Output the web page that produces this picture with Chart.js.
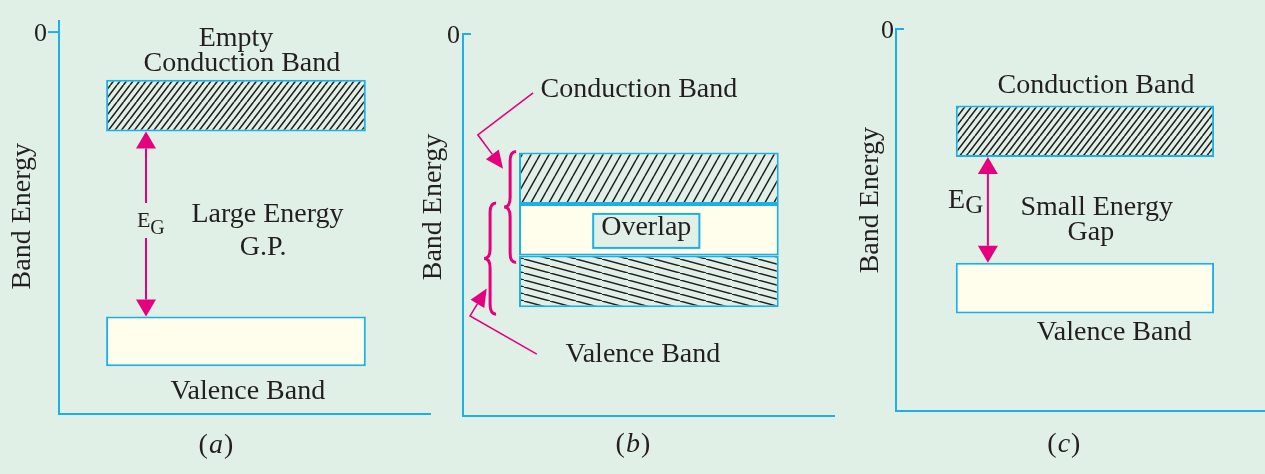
<!DOCTYPE html>
<html>
<head>
<meta charset="utf-8">
<title>Energy bands</title>
<script src="https://cdn.jsdelivr.net/npm/chart.js@4.4.1/dist/chart.umd.min.js"></script>
<style>
  html, body { margin: 0; padding: 0; background: #e1f0e6; }
  #wrap { position: relative; width: 1265px; height: 474px; overflow: hidden; }
  .panel { position: absolute; top: 0; height: 474px; }
</style>
</head>
<body>
<div id="wrap">
  <div class="panel" style="left:0;width:440px"><canvas id="chartA"></canvas></div>
  <div class="panel" style="left:420px;width:420px"><canvas id="chartB"></canvas></div>
  <div class="panel" style="left:845px;width:420px"><canvas id="chartC"></canvas></div>
</div>
<script>
// band energies in arbitrary units, 0 at the top of each axis
const captions = ['a', 'b', 'c'];
const axisTitle = 'Band Energy';
const zeroTick = [0];
const energyMin = -10;

const conductionA = [-1.25, -2.6];
const valenceA = [-7.45, -8.75];
const conductionB = [-3.1, -5.8];
const valenceB = [-4.45, -7.15];
const conductionC = [-2.0, -3.35];
const valenceC = [-6.12, -7.45];
const bandX = [4.77, 5.01, 5.12];

const notesA = ['Empty', 'Conduction Band', 'Large Energy', 'G.P.', 'Valence Band'];
const notesB = ['Conduction Band', 'Overlap', 'Valence Band'];
const notesC = ['Conduction Band', 'Small Energy', 'Gap', 'Valence Band'];
const gapSymbol = ['E', 'G'];

const MINT = '#e1f0e6';
const CYAN = '#1cb0e8';
const INK = '#231f20';
const CREAM = '#fffdeb';
const PINK = '#e5007e';
const SERIF = '"Liberation Serif", "Times New Roman", serif';

// hatch tile: n parallel lines per tile of w x h
function hatch(w, h, up, lw, n) {
    const c = document.createElement('canvas');
    c.width = w; c.height = h;
    const g = c.getContext('2d');
    g.fillStyle = MINT;
    g.fillRect(0, 0, w, h);
    g.strokeStyle = INK;
    g.lineWidth = lw;
    g.beginPath();
    for (let k = -n; k <= n; k++) {
        const x0 = k * w / n;
        if (up) { g.moveTo(x0, h); g.lineTo(x0 + w, 0); }
        else { g.moveTo(x0, 0); g.lineTo(x0 + w, h); }
    }
    g.stroke();
    return g.createPattern(c, 'repeat');
}
const hatchFine = hatch(13, 17, true, 1.6, 2);
const hatchWide = hatch(9, 16, true, 1.5, 1);
const hatchFlat = hatch(26, 7, false, 1.5, 1);

function tri(ctx, a, b, c) {
    ctx.beginPath();
    ctx.moveTo(a[0], a[1]); ctx.lineTo(b[0], b[1]); ctx.lineTo(c[0], c[1]);
    ctx.closePath();
    ctx.fill();
}

// text, arrows and braces placed with the chart's own scales
const bandNotes = {
    id: 'bandNotes',
    afterDatasetsDraw(chart, args, o) {
        const ctx = chart.ctx;
        const X = v => chart.scales.x.getPixelForValue(v);
        const Y = v => chart.scales.y.getPixelForValue(v);
        ctx.save();

        // zero tick
        const ax = chart.chartArea.left, ty = Y(0);
        ctx.strokeStyle = CYAN; ctx.lineWidth = 2;
        ctx.beginPath(); ctx.moveTo(ax, ty); ctx.lineTo(ax + o.tickDir * o.tickLen, ty); ctx.stroke();

        // boxed label
        if (o.box) {
            ctx.font = '28px ' + SERIF;
            const w = ctx.measureText(o.box.text).width + 16;
            const cx = X(o.box.x), cy = Y(o.box.y) + 4;
            ctx.fillStyle = MINT;
            ctx.fillRect(cx - w / 2, cy - 17, w, 34);
            ctx.strokeStyle = CYAN; ctx.lineWidth = 2;
            ctx.strokeRect(cx - w / 2, cy - 17, w, 34);
        }

        ctx.fillStyle = INK;
        ctx.textAlign = 'center';
        ctx.textBaseline = 'middle';
        ctx.font = '28px ' + SERIF;
        o.texts.forEach(t => ctx.fillText(t.text, X(t.x), Y(t.y)));

        // axis title
        ctx.save();
        ctx.translate(X(o.title.x), Y(o.title.y));
        ctx.rotate(-Math.PI / 2);
        ctx.fillText(axisTitle, 0, 0);
        ctx.restore();

        // caption like (a)
        const cap = o.caption;
        ctx.font = '28px ' + SERIF;
        const wp = ctx.measureText('(').width, wq = ctx.measureText(')').width;
        ctx.font = 'italic 28px ' + SERIF;
        const wl = ctx.measureText(cap.text).width + 2;
        const cx = X(cap.x) - (wp + wl + wq) / 2;
        const cy = Y(cap.y);
        ctx.textAlign = 'left';
        ctx.font = '28px ' + SERIF;
        ctx.fillText('(', cx, cy);
        ctx.font = 'italic 28px ' + SERIF;
        ctx.fillText(cap.text, cx + wp + 1, cy);
        ctx.font = '28px ' + SERIF;
        ctx.fillText(')', cx + wp + wl, cy);

        // energy gap arrow with E_G
        if (o.gap) {
            const g = o.gap, l = g.label;
            const x = X(g.x), y1 = Y(g.from), y2 = Y(g.to);
            const hl = 17, hw = 10;
            ctx.fillStyle = PINK; ctx.strokeStyle = PINK; ctx.lineWidth = 2;
            tri(ctx, [x, y1], [x - hw, y1 + hl], [x + hw, y1 + hl]);
            tri(ctx, [x, y2], [x - hw, y2 - hl], [x + hw, y2 - hl]);
            ctx.beginPath();
            if (g.split) {
                const ly = Y(l.y);
                ctx.moveTo(x, y1 + hl); ctx.lineTo(x, ly - 17);
                ctx.moveTo(x, ly + 18); ctx.lineTo(x, y2 - hl);
            } else {
                ctx.moveTo(x, y1 + hl); ctx.lineTo(x, y2 - hl);
            }
            ctx.stroke();

            ctx.fillStyle = INK;
            ctx.textBaseline = 'alphabetic';
            ctx.textAlign = 'left';
            const lx = X(l.x), base = Y(l.y) + 0.33 * l.size;
            ctx.font = l.size + 'px ' + SERIF;
            ctx.fillText(gapSymbol[0], lx, base);
            const we = ctx.measureText(gapSymbol[0]).width;
            ctx.font = l.sub + 'px ' + SERIF;
            ctx.fillText(gapSymbol[1], lx + we, base + l.drop);
        }

        // braces
        ctx.strokeStyle = PINK; ctx.fillStyle = PINK;
        (o.braces || []).forEach(b => {
            const x = X(b.x), ya = Y(b.from) - 1, yb = Y(b.to) + 7, ym = (ya + yb) / 2, d = 6;
            ctx.lineWidth = 3;
            ctx.beginPath();
            ctx.moveTo(x + d, ya);
            ctx.quadraticCurveTo(x, ya, x, ya + d * 1.6);
            ctx.lineTo(x, ym - d * 1.6);
            ctx.quadraticCurveTo(x, ym, x - d, ym);
            ctx.quadraticCurveTo(x, ym, x, ym + d * 1.6);
            ctx.lineTo(x, yb - d * 1.6);
            ctx.quadraticCurveTo(x, yb, x + d, yb);
            ctx.stroke();
        });

        // pointer arrows
        (o.pointers || []).forEach(p => {
            const pts = p.map(q => [X(q[0]), Y(q[1])]);
            const tip = pts[pts.length - 1], prev = pts[pts.length - 2];
            const a = Math.atan2(tip[1] - prev[1], tip[0] - prev[0]);
            const hl = 18, hw = 8, c = Math.cos(a), s = Math.sin(a);
            const bx = tip[0] - hl * c, by = tip[1] - hl * s;
            ctx.lineWidth = 1.6;
            ctx.beginPath();
            ctx.moveTo(pts[0][0], pts[0][1]);
            for (let i = 1; i < pts.length - 1; i++) ctx.lineTo(pts[i][0], pts[i][1]);
            ctx.lineTo(bx, by);
            ctx.stroke();
            tri(ctx, tip, [bx + hw * s, by - hw * c], [bx - hw * s, by + hw * c]);
        });

        ctx.restore();
    }
};

function makeChart(id, cfg) {
    return new Chart(document.getElementById(id), {
        type: 'bar',
        data: { datasets: cfg.datasets },
        options: {
            responsive: true,
            maintainAspectRatio: false,
            animation: false,
            layout: { padding: cfg.padding },
            datasets: {
                bar: {
                    grouped: false,
                    barPercentage: 0.7,
                    categoryPercentage: 1,
                    borderSkipped: false,
                    borderWidth: 2,
                    borderColor: CYAN
                }
            },
            scales: {
                x: {
                    type: 'linear', min: 0, max: 10, offset: false,
                    grid: { display: false },
                    border: { color: CYAN, width: 2 },
                    ticks: { display: false },
                    afterBuildTicks: s => { s.ticks = [{ value: 0 }, { value: 10 }]; },
                    afterFit: s => { s.height = 0; }
                },
                y: {
                    min: energyMin, max: cfg.yMax,
                    grid: { display: false, drawTicks: false },
                    border: { color: CYAN, width: 2 },
                    ticks: { padding: cfg.tickPad, labelOffset: 2, color: INK, font: { family: SERIF, size: 26 } },
                    afterBuildTicks: s => { s.ticks = zeroTick.map(v => ({ value: v })); },
                    afterFit: s => {
                        s.width = cfg.axisWidth;
                        s.paddingTop = 0;
                        s.paddingBottom = 0;
                    }
                }
            },
            plugins: {
                legend: { display: false },
                tooltip: { enabled: false },
                bandNotes: cfg.notes
            }
        },
        plugins: [bandNotes]
    });
}

// (a) insulator
makeChart('chartA', {
    padding: { top: 21, right: 10, bottom: 60, left: 0 },
    yMax: 0.29, axisWidth: 59, tickPad: 12,
    datasets: [
        { label: 'Conduction Band', data: [{ x: bandX[0], y: conductionA }], backgroundColor: hatchFine },
        { label: 'Valence Band', data: [{ x: bandX[0], y: valenceA }], backgroundColor: CREAM }
    ],
    notes: {
        tickDir: -1, tickLen: 11,
        title: { x: -0.98, y: -4.82 },
        caption: { text: captions[0], x: 4.23, y: -10.84 },
        texts: [
            { text: notesA[0], x: 4.77, y: -0.16 },
            { text: notesA[1], x: 4.93, y: -0.82 },
            { text: notesA[2], x: 5.62, y: -4.78 },
            { text: notesA[3], x: 5.5, y: -5.65 },
            { text: notesA[4], x: 5.09, y: -9.42 }
        ],
        gap: { x: 2.345, from: conductionA[1], to: valenceA[0], split: true,
               label: { x: 2.10, y: -4.92, size: 22, sub: 20, drop: 7 } }
    }
});

// (b) metal, bands overlap
makeChart('chartB', {
    padding: { top: 34, right: 6, bottom: 58, left: 0 },
    yMax: 0, axisWidth: 43, tickPad: 3,
    datasets: [
        { label: 'Conduction Band', data: [{ x: bandX[1], y: [conductionB[0], valenceB[0]] }], backgroundColor: hatchWide },
        { label: 'Overlap', data: [{ x: bandX[1], y: [valenceB[0], conductionB[1]] }], backgroundColor: CREAM },
        { label: 'Valence Band', data: [{ x: bandX[1], y: [conductionB[1], valenceB[1]] }], backgroundColor: hatchFlat }
    ],
    notes: {
        tickDir: 1, tickLen: 8,
        title: { x: -0.78, y: -4.53 },
        caption: { text: captions[1], x: 4.58, y: -10.76 },
        box: { text: notesB[1], x: 4.94, y: -5.05 },
        texts: [
            { text: notesB[0], x: 4.74, y: -1.45 },
            { text: notesB[1], x: 4.94, y: -5.07 },
            { text: notesB[2], x: 4.85, y: -8.40 }
        ],
        braces: [
            { x: 1.27, from: conductionB[0], to: conductionB[1] },
            { x: 0.73, from: valenceB[0], to: valenceB[1] }
        ],
        pointers: [
            [[1.89, -1.54], [0.40, -2.64], [1.08, -3.53]],
            [[1.99, -8.38], [0.19, -7.38], [0.64, -6.66]]
        ]
    }
});

// (c) semiconductor
makeChart('chartC', {
    padding: { top: 29, right: 0, bottom: 63, left: 0 },
    yMax: 0, axisWidth: 51, tickPad: 2,
    datasets: [
        { label: 'Conduction Band', data: [{ x: bandX[2], y: conductionC }], backgroundColor: hatchFine },
        { label: 'Valence Band', data: [{ x: bandX[2], y: valenceC }], backgroundColor: CREAM }
    ],
    notes: {
        tickDir: 1, tickLen: 8,
        title: { x: -0.70, y: -4.48 },
        caption: { text: captions[2], x: 4.55, y: -10.88 },
        texts: [
            { text: notesC[0], x: 5.42, y: -1.48 },
            { text: notesC[1], x: 5.44, y: -4.67 },
            { text: notesC[2], x: 5.28, y: -5.34 },
            { text: notesC[3], x: 5.91, y: -7.95 }
        ],
        gap: { x: 2.49, from: conductionC[1], to: valenceC[0], split: false,
               label: { x: 1.41, y: -4.45, size: 28, sub: 25, drop: 5 } }
    }
});
</script>
</body>
</html>
